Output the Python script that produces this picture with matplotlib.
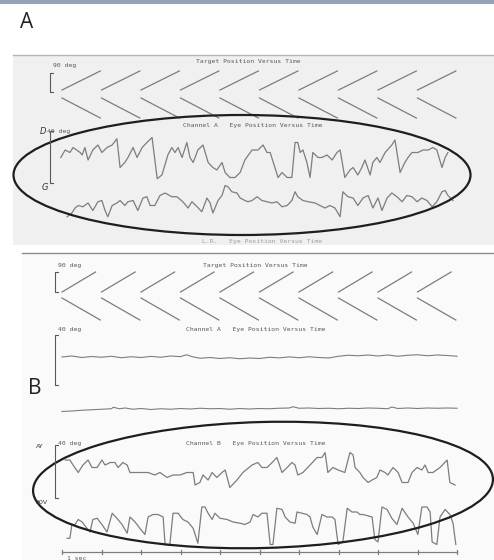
import matplotlib
matplotlib.use('Agg')
import matplotlib.pyplot as plt
from matplotlib.patches import Ellipse, Rectangle

# --- data (time in sec, position in deg) ---
target_onsets = [0, 1, 2, 3, 4, 5, 6, 7, 8, 9]
target_ramp_a = 0.97
target_ramp_b = 0.85
target_range = (-45, 45)

# panel A, channel A, horizontal eye position
a_horiz = [(-0.03, 2), (0.08, 8), (0.20, 6), (0.28, 10), (0.46, 6), (0.51, 4), (0.58, 10),
           (0.66, 0), (0.78, 8), (0.91, 12), (1.01, 6), (1.14, 10), (1.27, 12), (1.39, 17),
           (1.47, -6), (1.59, -2), (1.67, 2), (1.80, 10), (1.90, 2), (2.03, 10), (2.15, 14),
           (2.28, 18), (2.41, -15), (2.53, -12), (2.68, 4), (2.78, 10), (2.86, 6), (2.94, 10),
           (3.04, 2), (3.16, 14), (3.24, 2), (3.32, -2), (3.44, 8), (3.57, 12), (3.70, -2),
           (3.82, -6), (3.92, -8), (4.05, -2), (4.13, -10), (4.25, -14), (4.38, -14),
           (4.51, -10), (4.63, 0), (4.81, 8), (4.96, 8), (5.09, 12), (5.19, 6), (5.27, 6),
           (5.39, -6), (5.47, -14), (5.57, -10), (5.70, -14), (5.82, -14), (5.90, 14),
           (5.97, 14), (6.03, 6), (6.10, 8), (6.20, -2), (6.28, -14), (6.35, 6), (6.48, 2),
           (6.58, 2), (6.71, 4), (6.84, 0), (6.96, 6), (7.04, 8), (7.16, -14), (7.29, -8),
           (7.37, -6), (7.49, -12), (7.59, -6), (7.67, 0), (7.80, -12), (7.87, -2), (7.97, 2),
           (8.05, -2), (8.18, 6), (8.35, 12), (8.43, 16), (8.56, -10), (8.68, -2), (8.76, 2),
           (8.86, 6), (9.01, 6), (9.14, 8), (9.27, 8), (9.39, 10), (9.49, 8), (9.62, -6),
           (9.70, 2), (9.77, 6)]

# panel A, channel A, vertical eye position
a_vert = [(0.13, -11), (0.25, -8), (0.33, -4), (0.41, -2), (0.53, -3), (0.66, 0), (0.78, -6),
          (0.91, 1), (1.01, 2), (1.09, -6), (1.16, -11), (1.27, -2), (1.39, 0), (1.47, 2),
          (1.59, -2), (1.67, 1), (1.80, 2), (1.92, -6), (2.05, 4), (2.15, 5), (2.23, -2),
          (2.35, -2), (2.48, 6), (2.61, 8), (2.78, 5), (2.91, 5), (3.06, 1), (3.19, -4),
          (3.29, 1), (3.42, -3), (3.54, -7), (3.67, 4), (3.75, 0), (3.82, -8), (3.95, 2),
          (4.05, 6), (4.13, 14), (4.20, 13), (4.30, 9), (4.43, 8), (4.51, 4), (4.63, 2),
          (4.71, 1), (4.81, 2), (4.94, 5), (5.06, 2), (5.19, 1), (5.32, 0), (5.44, 1),
          (5.57, -3), (5.70, -2), (5.82, 2), (5.90, 9), (5.97, 5), (6.10, 2), (6.23, 1),
          (6.41, 0), (6.53, -2), (6.66, -4), (6.78, -2), (6.91, -4), (7.04, -11), (7.11, 9),
          (7.24, 5), (7.37, 4), (7.49, -2), (7.62, 4), (7.75, 6), (7.87, -4), (8.00, 4),
          (8.10, -6), (8.23, 4), (8.35, 8), (8.48, 5), (8.61, 1), (8.73, 6), (8.86, 5),
          (8.99, 1), (9.11, 4), (9.24, 2), (9.37, -3), (9.49, 1), (9.62, 9), (9.70, 10),
          (9.77, 6), (9.90, 2)]

# panel B, channel A (steady fixation)
b_chA_horiz = [(0, 0), (0.25, 0.8), (0.5, -0.4), (0.75, 0.4), (1.0, -0.2), (1.25, 0.6),
               (1.5, -0.6), (1.75, 0.2), (2.0, -0.4), (2.25, 0.5), (2.5, -0.2), (2.75, 0.8),
               (3.0, 0.3), (3.15, 1.8), (3.3, 0.2), (3.5, -1.0), (3.75, -0.4), (4.0, -1.2),
               (4.25, -0.6), (4.5, -1.4), (4.75, -0.8), (5.0, -1.2), (5.25, -0.2), (5.5, -0.7),
               (5.75, 0.1), (6.0, -0.6), (6.25, 0.2), (6.5, -0.4), (6.75, -0.8), (7.0, 0.6),
               (7.25, 1.4), (7.5, 1.0), (7.75, 1.6), (8.0, 0.8), (8.25, 1.6), (8.5, 0.6),
               (8.75, 1.4), (9.0, 1.8), (9.25, 1.0), (9.5, 1.6), (9.75, 1.2), (10.0, 0.6)]

b_chA_vert = [(0, -2.0), (0.25, -1.6), (0.5, -1.0), (0.75, -0.6), (1.0, -0.2), (1.25, 0.2),
              (1.3, 1.4), (1.45, 0.2), (1.6, 0.8), (1.8, -0.2), (2.0, 0.4), (2.25, -0.4),
              (2.5, 0.2), (2.75, -0.2), (3.0, 0.4), (3.25, 0), (3.5, 0.6), (3.75, 0.2),
              (4.0, 0.4), (4.25, -0.2), (4.5, 0.4), (4.75, 0), (5.0, 0.4), (5.25, 0.2),
              (5.5, 0.6), (5.75, 0.8), (5.85, 1.8), (6.0, 0.6), (6.25, 0.8), (6.5, 0.4),
              (6.75, 0.6), (7.0, 0.2), (7.25, 0.6), (7.5, 0.4), (7.75, 0.8), (8.0, 0.6),
              (8.25, 0.2), (8.35, 1.6), (8.5, 0.4), (8.75, 0.8), (9.0, 0.4), (9.25, 0.8),
              (9.5, 0.6), (9.75, 0.8), (10.0, 0.6)]

# panel B, channel B
b_chB_horiz = [(0.08, 8), (0.20, 8), (0.28, 4), (0.41, -2), (0.53, 4), (0.66, 8), (0.76, 2),
               (0.89, 2), (1.01, 8), (1.09, 4), (1.22, 6), (1.34, 6), (1.42, 2), (1.54, 6),
               (1.65, 4), (1.72, -2), (1.90, -2), (2.05, -2), (2.18, -2), (2.35, -4),
               (2.48, -2), (2.66, -6), (2.81, -4), (2.99, -4), (3.16, -2), (3.32, -2),
               (3.37, -12), (3.49, -10), (3.57, -4), (3.70, -8), (3.80, -2), (3.92, -6),
               (4.05, -2), (4.13, 0), (4.25, -14), (4.43, -8), (4.58, -2), (4.81, 4),
               (4.96, 6), (5.06, 2), (5.19, 2), (5.32, 6), (5.44, 10), (5.57, -2), (5.70, 2),
               (5.82, 6), (5.90, 4), (5.97, -4), (6.10, -2), (6.28, 4), (6.46, 10),
               (6.58, 10), (6.66, 14), (6.73, -2), (6.86, 2), (6.99, 0), (7.16, -2),
               (7.29, 14), (7.37, 12), (7.42, 2), (7.54, -2), (7.62, -6), (7.75, -10),
               (7.85, -8), (7.97, -6), (8.05, 0), (8.18, -2), (8.25, -4), (8.38, 2),
               (8.51, -2), (8.61, -10), (8.76, -10), (8.86, -2), (8.99, 2), (9.11, 0),
               (9.19, 4), (9.27, -2), (9.39, -2), (9.57, 2), (9.75, 8), (9.82, -10),
               (9.95, -12)]

b_chB_vert = [(0.13, -9), (0.20, -9), (0.25, 2), (0.33, 2), (0.41, 6), (0.51, 4), (0.63, -1),
              (0.71, -4), (0.78, 6), (0.89, 7), (1.01, 2), (1.14, -4), (1.27, 11), (1.39, 7),
              (1.52, 2), (1.65, -5), (1.72, 8), (1.85, 4), (1.97, -1), (2.10, -6), (2.18, 8),
              (2.30, 10), (2.43, 10), (2.56, 8), (2.61, -14), (2.73, -14), (2.81, 11),
              (2.94, 11), (3.06, 6), (3.19, 4), (3.32, -1), (3.44, -13), (3.54, 16),
              (3.62, 16), (3.70, 11), (3.80, 6), (3.87, 11), (4.00, 7), (4.18, 6), (4.33, 4),
              (4.51, 3), (4.63, 2), (4.76, 4), (4.84, 10), (4.96, 8), (5.06, 11), (5.19, 11),
              (5.27, -14), (5.34, -14), (5.44, 15), (5.57, 14), (5.65, 8), (5.77, 4),
              (5.90, 3), (5.95, 12), (6.08, 11), (6.20, 10), (6.28, 8), (6.35, 0), (6.46, -6),
              (6.58, 10), (6.71, 8), (6.84, 8), (6.91, 6), (6.99, -14), (7.11, -12),
              (7.22, 15), (7.34, 12), (7.47, 12), (7.54, 10), (7.62, 10), (7.85, 8),
              (7.92, -10), (8.00, -12), (8.10, 16), (8.23, 14), (8.35, 7), (8.48, 2),
              (8.61, 15), (8.76, 8), (8.89, 3), (9.01, -6), (9.11, 16), (9.24, 16), (9.32, 12),
              (9.37, -12), (9.49, -14), (9.57, 8), (9.70, 14), (9.82, 10), (9.90, 3),
              (9.97, -14)]

time_ticks = [0, 1, 2, 3, 4, 5, 6, 7, 8, 9, 10]

W, H = 494, 560
X0, X1 = 62, 457          # pixel span of the 10 s time base
TRACE = '#7d7d7d'
INK = '#5a5a5a'

fig = plt.figure(figsize=(W / 100, H / 100), dpi=100)
fig.patch.set_facecolor('white')


def overlay():
    ax = fig.add_axes([0, 0, 1, 1])
    ax.set_xlim(0, W)
    ax.set_ylim(H, 0)
    ax.axis('off')
    ax.patch.set_alpha(0)
    return ax


def strip(top, bottom, ylim):
    ax = fig.add_axes([X0 / W, 1 - bottom / H, (X1 - X0) / W, (bottom - top) / H])
    ax.set_xlim(0, 10)
    ax.set_ylim(*ylim)
    ax.axis('off')
    ax.patch.set_alpha(0)
    return ax


def trace(ax, pairs, lw=0.9):
    t, d = zip(*pairs)
    ax.plot(t, d, color=TRACE, lw=lw, clip_on=False)


# background: scanned pages
bg = overlay()
bg.add_patch(Rectangle((0, 0), W, 3.5, color='#93a2b6', lw=0))
bg.add_patch(Rectangle((13, 55), W - 13, 190, color='#f0f0f0', lw=0))
bg.add_patch(Rectangle((22, 253), W - 22, H - 253, color='#fafafa', lw=0))
bg.plot([13, W], [55, 55], color='#b4b4b4', lw=1)
bg.plot([22, W], [253, 253], color='#8c8c8c', lw=1)

# target sawtooth ramps
for top, bottom, dur, rising in [(71, 90, target_ramp_a, True), (98, 118, target_ramp_a, False),
                                 (272, 292, target_ramp_b, True), (298, 320, 0.97, False)]:
    ax = strip(top, bottom, target_range)
    lo, hi = target_range
    for on in target_onsets:
        ys = [lo, hi] if rising else [hi, lo]
        ax.plot([on, on + dur], ys, color=TRACE, lw=0.9, clip_on=False)

# eye traces (1.25 px per deg)
trace(strip(130, 190, (-24, 24)), a_horiz)
trace(strip(173, 233, (-24, 24)), a_vert)
trace(strip(327, 387, (-24, 24)), b_chA_horiz, lw=0.8)
trace(strip(379, 439, (-24, 24)), b_chA_vert, lw=0.8)
trace(strip(440, 500, (-24, 24)), b_chB_horiz)
trace(strip(497, 557, (-24, 24)), b_chB_vert)

# time base with 1 s ticks
tax = strip(545, 559, (0, 14))
tax.plot([time_ticks[0], time_ticks[-1]], [7, 7], color=TRACE, lw=0.9, clip_on=False)
for tk in time_ticks:
    tax.plot([tk, tk], [5, 9], color=TRACE, lw=0.9, clip_on=False)

# foreground annotations
fg = overlay()
mono = dict(family='DejaVu Sans Mono', fontsize=4.6, color=INK, va='center')

fg.text(20, 23, 'A', fontsize=15, family='Open Sans', color='#222222', va='center')
fg.text(28, 389, 'B', fontsize=15, family='Open Sans', color='#222222', va='center')

fg.text(53, 66, '90 deg', **mono)
fg.text(248, 61, 'Target Position Versus Time', ha='center', **mono)
fg.text(40, 131, 'D', fontsize=6, color='#333333', va='center', style='italic')
fg.text(47, 131, '40 deg', **mono)
fg.text(253, 125, 'Channel A   Eye Position Versus Time', ha='center', **mono)
fg.text(42, 187, 'G', fontsize=6, color='#333333', va='center', style='italic')
fg.text(262, 242, 'L.R.   Eye Position Versus Time', ha='center', alpha=0.55, **mono)

fg.text(58, 265, '90 deg', **mono)
fg.text(255, 265, 'Target Position Versus Time', ha='center', **mono)
fg.text(58, 330, '40 deg', **mono)
fg.text(256, 330, 'Channel A   Eye Position Versus Time', ha='center', **mono)
fg.text(36, 446, 'AY', fontsize=4.5, color='#333333', va='center')
fg.text(58, 444, '40 deg', **mono)
fg.text(256, 444, 'Channel B   Eye Position Versus Time', ha='center', **mono)
fg.text(36, 503, '30V', fontsize=4.5, color='#333333', va='center')
fg.text(67, 559, '1 sec', **mono)

# scale brackets
for x, y0, y1 in [(50, 73, 92), (50, 131, 183), (55, 272, 292), (55, 335, 385), (55, 445, 498)]:
    fg.plot([x + 3, x, x, x + 3], [y0, y0, y1, y1], color=INK, lw=0.8)

# hand-drawn ellipses
fg.add_patch(Ellipse((242, 175), 457, 120, fill=False, ec='#1e1e1e', lw=1.6))
fg.add_patch(Ellipse((263, 485), 460, 126, angle=-1.5, fill=False, ec='#1e1e1e', lw=1.6))

fig.savefig('out.png', dpi=100)
